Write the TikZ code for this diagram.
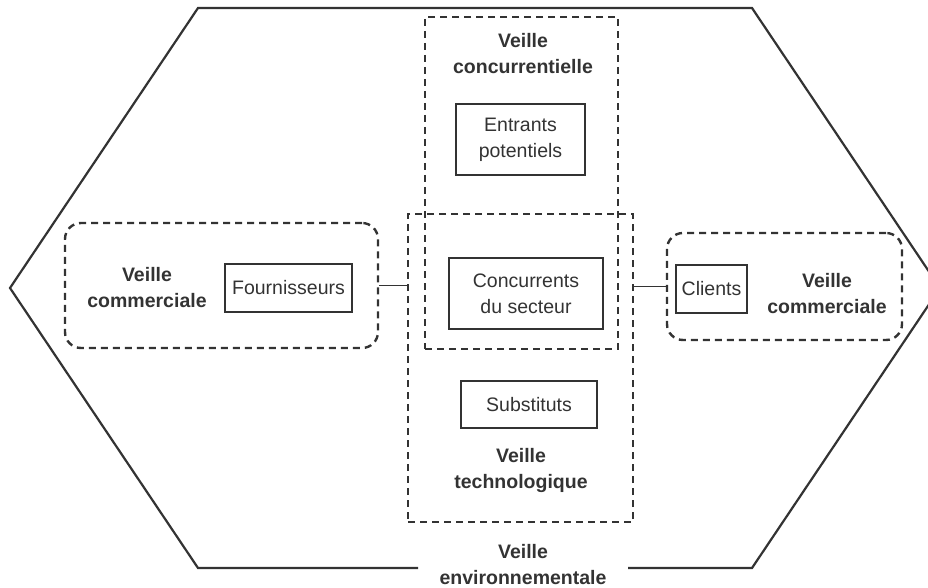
\documentclass[tikz,border=0pt]{standalone}
\usepackage{fontspec}
\setmainfont{Liberation Sans}
\begin{document}
\begin{tikzpicture}[x=1pt,y=-1pt,
  ink/.style={draw=black!80},
  hexline/.style={ink, line width=2.2pt, line join=miter},
  dbox/.style={ink, line width=2.4pt, dash pattern=on 7pt off 5pt, inner sep=0pt},
  rdbox/.style={dbox, rounded corners=16pt},
  sbox/.style={ink, line width=1.9pt, inner sep=0pt, align=center, font=\fontsize{19.5}{26}\selectfont, text=black!80},
  lbl/.style={align=center, font=\fontsize{19.5}{26}\selectfont\bfseries, text=black!80},
  conn/.style={ink, line width=1.8pt}]
\useasboundingbox (0,0) rectangle (928,588);
% outer hexagon (Veille environnementale)
\draw[hexline] (418,568) -- (198,568) -- (10,288) -- (198,8) -- (752,8) -- (940,288) -- (752,568) -- (628,568);
\node[lbl] (env) at (523,565) {Veille\\environnementale};
% dashed boxes
\node[dbox, minimum width=193, minimum height=332] (conc) at (521.5,183) {};
\node[dbox, minimum width=225, minimum height=308] (tech) at (520.5,368) {};
\node[rdbox, minimum width=313, minimum height=125] (lcom) at (221.5,285.5) {};
\node[rdbox, minimum width=235, minimum height=107] (rcom) at (784.5,286.5) {};
% labels
\node[lbl] (lconc) at (523,54) {Veille\\concurrentielle};
\node[lbl] (ltech) at (521,470) {Veille\\technologique};
\node[lbl] (llcom) at (147,288) {Veille\\commerciale};
\node[lbl] (lrcom) at (827,294) {Veille\\commerciale};
% solid boxes
\node[sbox, minimum width=129, minimum height=71] (entr) at (520.5,139.5) {Entrants\\potentiels};
\node[sbox, minimum width=154, minimum height=71] (concur) at (526,293.5) {Concurrents\\du secteur};
\node[sbox, minimum width=136, minimum height=47, line width=1.4pt] (subs) at (529,404.5) {Substituts};
\node[sbox, minimum width=127, minimum height=48] (four) at (288.5,288) {Fournisseurs};
\node[sbox, minimum width=71, minimum height=48, line width=1.4pt] (cli) at (711.5,289) {Clients};
% connectors
\draw[conn] (lcom.east) -- (lcom.east -| tech.west);
\draw[conn] (tech.east |- rcom.west) -- (rcom.west);
\end{tikzpicture}
\end{document}
